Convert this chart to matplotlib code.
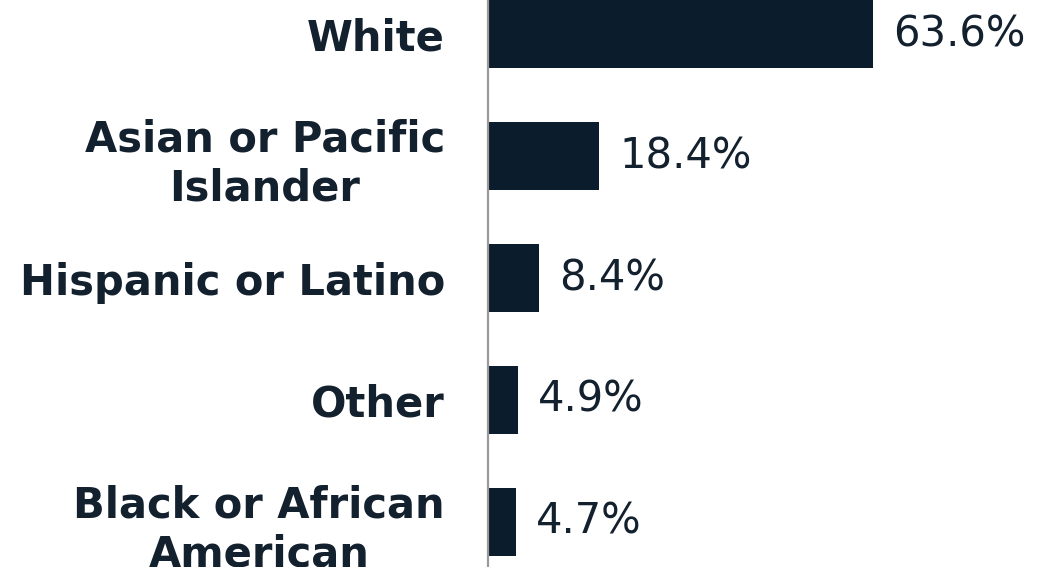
import matplotlib.pyplot as plt

categories = ["White", "Asian or Pacific\nIslander", "Hispanic or Latino", "Other",
              "Black or African\nAmerican"]
shares = [63.6, 18.4, 8.4, 4.9, 4.7]

navy = "#0b1d2d"
text_color = "#13202e"

fig = plt.figure(figsize=(10.56, 5.67), dpi=100)
ax = fig.add_axes([488 / 1056, 0, 568 / 1056, 1])

pos = list(range(len(categories)))
ax.barh(pos, shares, height=0.56, color=navy)

ax.set_xlim(0, 568 / 6.05)
ax.set_ylim(4.369, -0.279)

# percentage labels just past the bar ends
for y, v in zip(pos, shares):
    ax.text(v + 3.3, y, f"{v}%", va="center", ha="left", fontsize=30,
            color=text_color, fontweight="medium")

ax.set_yticks(pos)
ax.set_yticklabels(categories, fontsize=30, fontweight="bold", color=text_color)
for lbl in ax.get_yticklabels():
    lbl.set_multialignment("center")
ax.tick_params(axis="y", length=0, pad=31)
ax.set_xticks([])

for side in ["top", "right", "bottom"]:
    ax.spines[side].set_visible(False)
ax.spines["left"].set_color("#9a9a9a")
ax.spines["left"].set_linewidth(1.6)

fig.savefig("out.png", dpi=100)
